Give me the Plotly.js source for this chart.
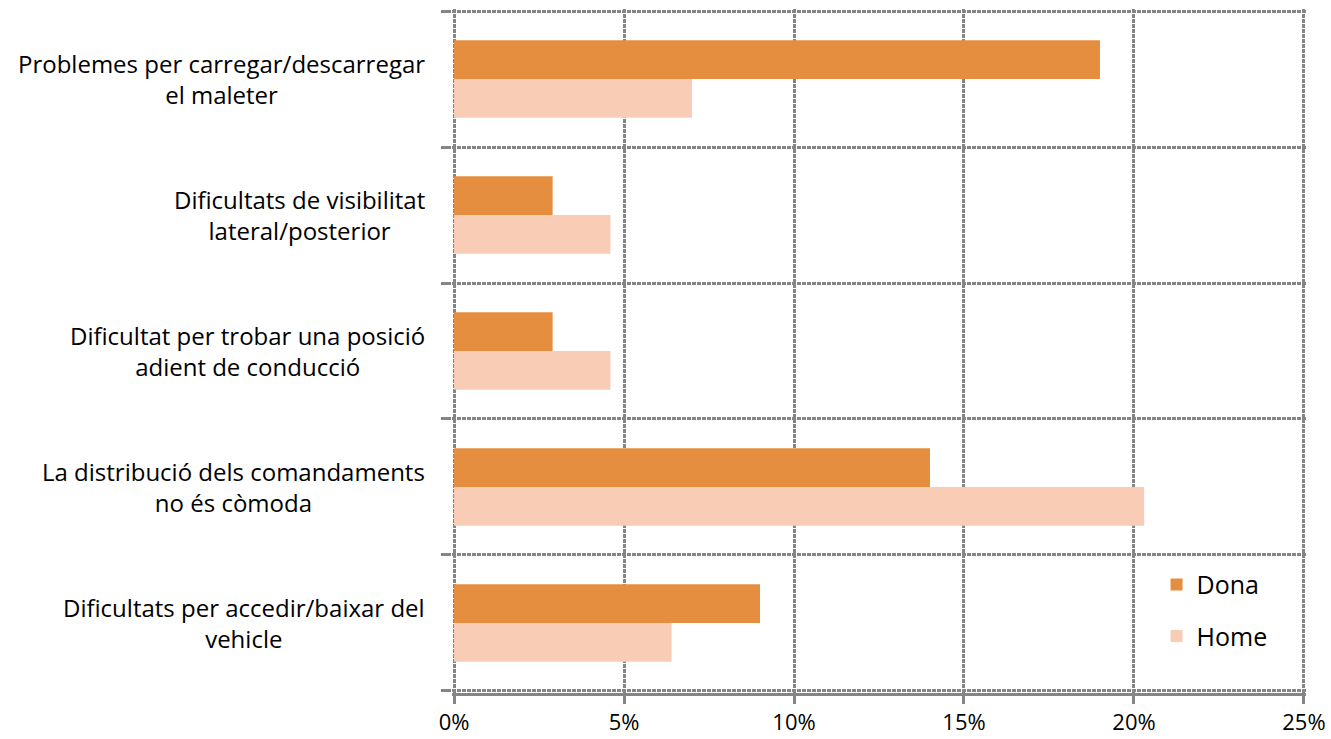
<!DOCTYPE html>
<html>
<head>
<meta charset="utf-8">
<script src="https://cdn.plot.ly/plotly-3.0.1.min.js"></script>
<style>html,body{margin:0;padding:0;background:#fff;}#chart{width:1331px;height:739px;}</style>
</head>
<body>
<div id="chart"></div>
<script>
const categories = [
  "Problemes per carregar/descarregar<br>el maleter",
  "Dificultats de visibilitat<br>lateral/posterior",
  "Dificultat per trobar una posició<br>adient de conducció",
  "La distribució dels comandaments<br>no és còmoda",
  "Dificultats per accedir/baixar del<br>vehicle"
];
const dona = [19.0, 2.9, 2.9, 14.0, 9.0];
const home = [7.0, 4.6, 4.6, 20.3, 6.4];
const seriesNames = ["Dona", "Home"];
const xTicks = [0, 5, 10, 15, 20, 25];

const FONT = "'Open Sans', 'Noto Sans', sans-serif";
const GRID = "#858585";
const DASH = "4px,1px";

const idx = categories.map((c, i) => i);
const traces = [
  {type: "bar", orientation: "h", name: seriesNames[0], legendgroup: "a", y: idx, x: dona,
   marker: {color: "#E68E40"}, hoverinfo: "x"},
  {type: "bar", orientation: "h", name: seriesNames[1], legendgroup: "b", y: idx, x: home,
   marker: {color: "#F9CDB5"}, hoverinfo: "x"}
];

const boundaries = [];
for (let i = 0; i <= categories.length; i++) boundaries.push(i - 0.5);
const yPad = 0.015;
const yRange = [categories.length - 0.5 + yPad, -0.5 - yPad];

const annotations = categories.map((c, i) => ({
  text: c, x: -0.029, xref: "paper", y: i, yref: "y",
  xanchor: "right", yanchor: "middle", align: "center", showarrow: false,
  font: {family: FONT, size: 24, color: "#000"}
}));

const layout = {
  width: 1331, height: 739,
  margin: {l: 452, r: 25, t: 9, b: 46},
  paper_bgcolor: "#fff", plot_bgcolor: "#fff",
  barmode: "group", bargap: 0.43, bargroupgap: 0,
  font: {family: FONT, size: 22, color: "#000"},
  xaxis: {
    range: [-0.06, 25.06], tickvals: xTicks, ticktext: xTicks.map(v => v + "%"),
    showgrid: true, gridcolor: GRID, gridwidth: 3, griddash: DASH,
    zeroline: false, showline: true, linecolor: GRID, linewidth: 3,
    ticks: "outside", ticklen: 8, tickwidth: 3, tickcolor: GRID, ticklabelstandoff: 0,
    tickfont: {family: FONT, size: 22, color: "#000"}
  },
  yaxis: {
    range: yRange, showticklabels: false, showgrid: false,
    zeroline: false, showline: false, ticks: ""
  },
  yaxis2: {
    overlaying: "y", side: "left", range: yRange,
    tickvals: boundaries, showticklabels: false,
    showgrid: true, gridcolor: GRID, gridwidth: 3, griddash: DASH,
    zeroline: false, showline: false,
    ticks: "outside", ticklen: 10, tickwidth: 3, tickcolor: GRID
  },
  showlegend: true,
  legend: {x: 0.825, y: 0.192, xanchor: "left", yanchor: "top", bgcolor: "rgba(0,0,0,0)",
           traceorder: "grouped", tracegroupgap: 16,
           font: {family: FONT, size: 25, color: "#000"}, itemwidth: 30},
  annotations: annotations
};

// invisible helper trace that activates the boundary grid axis
traces.push({type: "scatter", x: [0], y: [0], yaxis: "y2", mode: "markers",
  marker: {opacity: 0}, showlegend: false, hoverinfo: "skip"});

Plotly.newPlot("chart", traces, layout, {displayModeBar: false, staticPlot: true});
</script>
</body>
</html>
